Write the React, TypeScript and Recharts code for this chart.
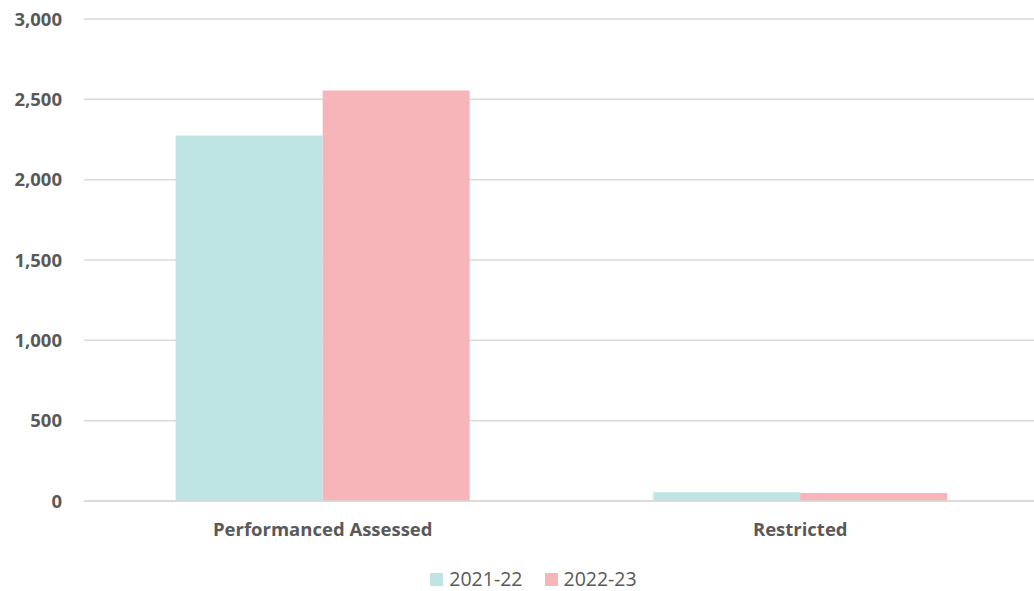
import { Bar, BarChart, CartesianGrid, Legend, XAxis, YAxis } from 'recharts';

const categories = ['Performanced Assessed', 'Restricted'];
const values2122 = [2275, 55];
const values2223 = [2555, 50];
const yTicks = [0, 500, 1000, 1500, 2000, 2500, 3000];
const seriesNames = ['2021-22', '2022-23'];
const seriesColors = ['#bfe4e4', '#f7b5b9'];

const data = categories.map((name, i) => ({
  name,
  y2122: values2122[i],
  y2223: values2223[i],
}));

const font = '"Open Sans", "Liberation Sans", sans-serif';

const LegendBox = () => (
  <div style={{ display: 'flex', justifyContent: 'center', gap: 22, paddingTop: 7, paddingLeft: 28 }}>
    {seriesNames.map((n, i) => (
      <div key={n} style={{ display: 'flex', alignItems: 'center', gap: 6 }}>
        <span style={{ width: 13, height: 13, background: seriesColors[i], display: 'inline-block' }} />
        <span style={{ fontSize: 19.5, color: '#595959', fontFamily: font, lineHeight: '22px' }}>{n}</span>
      </div>
    ))}
  </div>
);

const App = () => {
  return (
    <div style={{ position: 'absolute', left: 0, top: 0, width: 1034, height: 591, fontFamily: font, overflow: 'hidden' }}>
      <BarChart
        width={1034}
        height={591}
        data={data}
        barCategoryGap="19.2%"
        barGap={0}
        margin={{ top: 19, right: -5, left: 0, bottom: 0 }}
      >
        <CartesianGrid vertical={false} stroke="#d9d9d9" strokeWidth={1.5} />
        <XAxis
          dataKey="name"
          height={60}
          tickLine={false}
          axisLine={{ stroke: '#d9d9d9', strokeWidth: 1.5 }}
          tickMargin={16}
          tick={{ fill: '#595959', fontSize: 18.5, fontWeight: 700, fontFamily: font }}
        />
        <YAxis
          width={84}
          domain={[0, 3000]}
          ticks={yTicks}
          tickLine={false}
          axisLine={false}
          tickMargin={16}
          tickFormatter={(v: number) => v.toLocaleString('en-US')}
          tick={{ fill: '#595959', fontSize: 18.5, fontWeight: 700, fontFamily: font }}
        />
        <Legend verticalAlign="bottom" height={30} content={() => <LegendBox />} />
        <Bar dataKey="y2122" name={seriesNames[0]} fill={seriesColors[0]} isAnimationActive={false} />
        <Bar dataKey="y2223" name={seriesNames[1]} fill={seriesColors[1]} isAnimationActive={false} />
      </BarChart>
    </div>
  );
};

export default App;
